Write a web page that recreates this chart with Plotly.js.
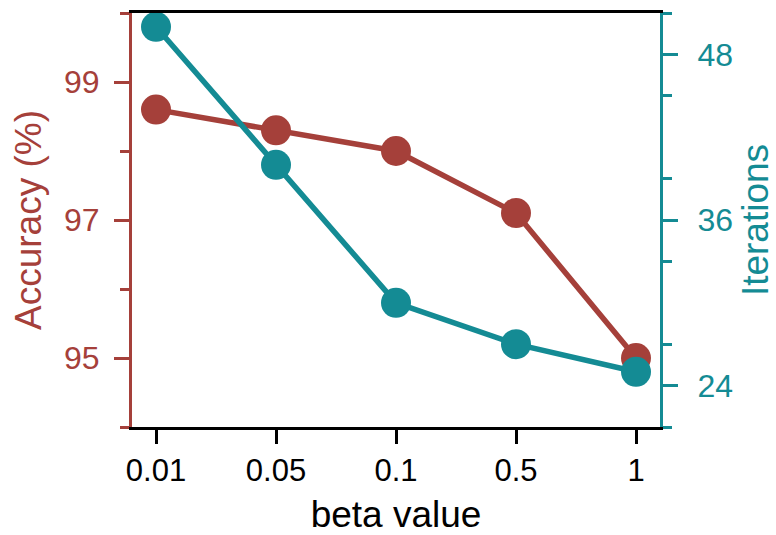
<!DOCTYPE html>
<html>
<head>
<meta charset="utf-8">
<script src="https://cdn.plot.ly/plotly-3.0.1.min.js"></script>
<style>html,body{margin:0;padding:0;background:#fff;}#chart{width:776px;height:535px;}</style>
</head>
<body>
<div id="chart"></div>
<script>
const betaLabels = ["0.01", "0.05", "0.1", "0.5", "1"];
const accuracy = [98.6, 98.3, 98.0, 97.1, 95.0];
const iterations = [50, 40, 30, 27, 25];

const RED = "#a5403a";
const TEAL = "#148b94";
const FONT = "Liberation Sans, Arial, sans-serif";

const traces = [
  {
    x: betaLabels, y: accuracy, type: "scatter", mode: "lines+markers",
    line: {color: RED, width: 5.5}, marker: {color: RED, size: 30},
    cliponaxis: false, showlegend: false, yaxis: "y"
  },
  {
    x: betaLabels, y: iterations, type: "scatter", mode: "lines+markers",
    line: {color: TEAL, width: 5.5}, marker: {color: TEAL, size: 30},
    cliponaxis: false, showlegend: false, yaxis: "y2"
  }
];

const layout = {
  width: 776, height: 535,
  margin: {l: 132, r: 116, t: 13, b: 108},
  paper_bgcolor: "#fff", plot_bgcolor: "#fff",
  font: {family: FONT, size: 32, color: "#000"},
  xaxis: {
    type: "category", range: [-0.2, 4.2],
    showgrid: false, zeroline: false,
    showline: true, linecolor: "#000", linewidth: 3, mirror: true,
    ticks: "outside", ticklen: 14, tickwidth: 3, tickcolor: "#000",
    tickfont: {size: 31, color: "#000", family: FONT},
    title: {text: "beta value", font: {size: 37, color: "#000", family: FONT}, standoff: 16}
  },
  yaxis: {
    range: [94, 100], tick0: 1, dtick: 2,
    showgrid: false, zeroline: false,
    showline: true, linecolor: RED, linewidth: 3,
    ticks: "outside", ticklen: 15, tickwidth: 3, tickcolor: RED,
    ticklabelstandoff: 8,
    minor: {tick0: 0, dtick: 2, ticks: "outside", ticklen: 9, tickwidth: 3, tickcolor: RED, showgrid: false},
    tickfont: {size: 32, color: RED, family: FONT},
    title: {text: "Accuracy (%)", font: {size: 37, color: RED, family: FONT}, standoff: 12}
  },
  yaxis2: {
    overlaying: "y", side: "right",
    range: [21, 51], tick0: 0, dtick: 12,
    showgrid: false, zeroline: false,
    showline: true, linecolor: TEAL, linewidth: 3,
    ticks: "outside", ticklen: 15, tickwidth: 3, tickcolor: TEAL,
    ticklabelstandoff: 13,
    minor: {tick0: 3, dtick: 6, ticks: "outside", ticklen: 9, tickwidth: 3, tickcolor: TEAL, showgrid: false},
    tickfont: {size: 32, color: TEAL, family: FONT},
    title: {text: "Iterations", font: {size: 37, color: TEAL, family: FONT}, standoff: 14}
  }
};

Plotly.newPlot("chart", traces, layout, {displayModeBar: false, staticPlot: true});
</script>
</body>
</html>
